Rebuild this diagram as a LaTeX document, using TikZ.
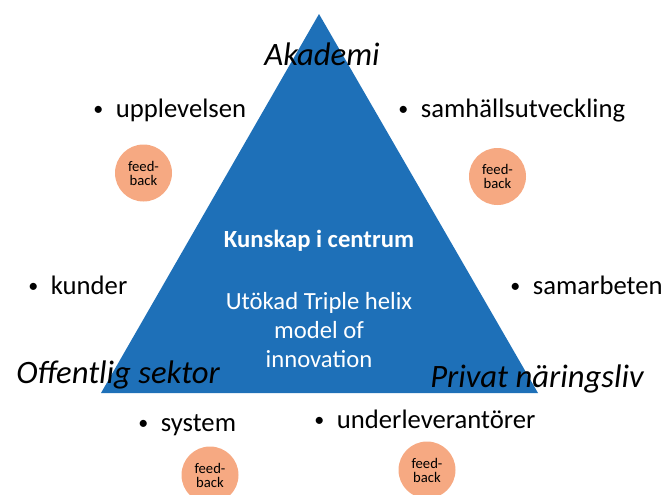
\documentclass[tikz,border=0pt]{standalone}
\usepackage{fontspec}
\setmainfont{Carlito}
\definecolor{helixblue}{HTML}{1E70B8}
\definecolor{fbsalmon}{HTML}{F6A982}
\tikzset{
  item/.style={anchor=base west, inner sep=0pt, font=\fontsize{20}{24}\selectfont},
  sector/.style={inner sep=0pt, font=\fontsize{24.5}{29}\selectfont\itshape},
  feedback/.style={circle, fill=fbsalmon, minimum size=42.75pt, inner sep=0pt,
    align=center, font=\fontsize{11}{10.5}\selectfont},
  inner/.style={inner sep=0pt, text=white, align=center,
    font=\fontsize{18.5}{21.4}\selectfont}
}
\newcommand{\bulletitem}[1]{\makebox[17pt][l]{\raisebox{1.2pt}{\fontsize{15}{15}\selectfont\textbullet}}#1}
\begin{document}
\begin{tikzpicture}[x=0.75pt,y=-0.75pt]
      \useasboundingbox (0,0) rectangle (664,494);
      \coordinate (top) at (319,14);
      \coordinate (bl) at (101,393);
      \coordinate (br) at (538,393);
      \fill[helixblue] (top) -- (bl) -- (br) -- cycle;
      \path
        (322,65) node[sector,anchor=base] (akademi){Akademi}
        (16,383) node[sector,anchor=base west] (offentlig){Offentlig sektor}
        (430,387) node[sector,anchor=base west] (privat){Privat näringsliv};
      \path
        (93,117) node[item] (upplevelsen){\bulletitem{upplevelsen}}
        (398,117) node[item] (samhalle){\bulletitem{samhällsutveckling}}
        (28,294) node[item] (kunder){\bulletitem{kunder}}
        (510,294) node[item] (samarbeten){\bulletitem{samarbeten}}
        (138,431) node[item] (system){\bulletitem{system}}
        (314,428) node[item] (leverantorer){\bulletitem{underleverantörer}};
      \path
        (143.5,173) node[feedback] (fb1){feed-\\back}
        (497.5,176.5) node[feedback] (fb2){feed-\\back}
        (210,475) node[feedback] (fb3){feed-\\back}
        (427,470) node[feedback] (fb4){feed-\\back};
      \path
        (319,247) node[inner,anchor=base] (kunskap){\bfseries Kunskap i centrum}
        (319,330) node[inner] (helix){Utökad Triple helix\\model of\\innovation};
    \end{tikzpicture}
\end{document}
